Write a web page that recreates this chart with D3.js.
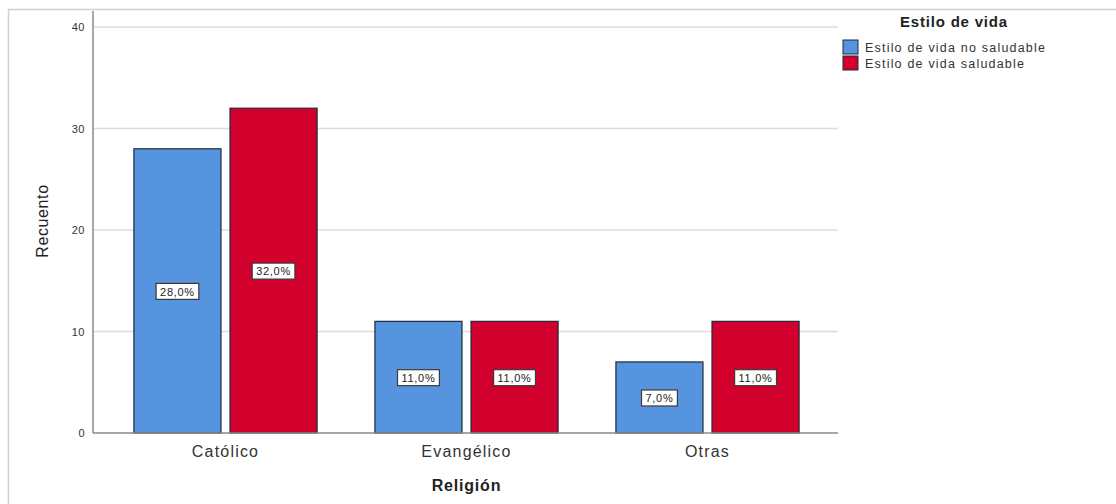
<!DOCTYPE html>
<html><head><meta charset="utf-8">
<script src="https://cdn.jsdelivr.net/npm/d3@7"></script>
<style>body{margin:0;background:#fff;} svg{display:block;font-family:"Liberation Sans",Arial,sans-serif;}</style>
</head><body>
<svg id="c" width="1116" height="504"></svg>
<script>
const categories = ["Católico", "Evangélico", "Otras"];
const seriesNames = ["Estilo de vida no saludable", "Estilo de vida saludable"];
const noSaludable = [28, 11, 7];
const saludable = [32, 11, 11];
const pctLabelsNo = ["28,0%", "11,0%", "7,0%"];
const pctLabelsSi = ["32,0%", "11,0%", "11,0%"];
const yTicks = [0, 10, 20, 30, 40];
const colors = ["#5794e0", "#d2002c"];

const svg = d3.select("#c");
// outer frame
svg.append("line").attr("x1",8).attr("x2",1116).attr("y1",9.5).attr("y2",9.5).attr("stroke","#d0d0d0").attr("stroke-width",1.5);
svg.append("line").attr("x1",8.5).attr("x2",8.5).attr("y1",9).attr("y2",504).attr("stroke","#d0d0d0").attr("stroke-width",1.5);

const plotL = 93, plotR = 838;
const y = d3.scaleLinear().domain([0,40]).range([433,27]);
const x0 = d3.scaleBand().domain(categories).range([105,828]).paddingInner(0.24).paddingOuter(0.12);
const x1 = d3.scaleBand().domain([0,1]).range([0,x0.bandwidth()]).paddingInner(0.094);

// gridlines
svg.append("g").selectAll("line").data(yTicks.filter(d=>d>0)).join("line")
  .attr("x1",plotL).attr("x2",plotR).attr("y1",d=>y(d)).attr("y2",d=>y(d))
  .attr("stroke","#dcdcdc").attr("stroke-width",1.5);

// y axis
const yAxis = svg.append("g").attr("transform",`translate(${plotL},0)`)
  .call(d3.axisLeft(y).tickValues(yTicks).tickSize(0).tickPadding(8));
yAxis.select(".domain").attr("stroke","#8a8a8a").attr("stroke-width",1.5).attr("d",`M0,${y(0)}V11`);
yAxis.selectAll("text").attr("font-size",11).attr("fill","#333").attr("letter-spacing",0.5);

// bars
const data = categories.map((c,i)=>({c, vals:[noSaludable[i], saludable[i]], labs:[pctLabelsNo[i], pctLabelsSi[i]]}));
const g = svg.append("g").selectAll("g").data(data).join("g").attr("transform",d=>`translate(${x0(d.c)},0)`);
g.selectAll("rect").data(d=>d.vals.map((v,k)=>({v,k}))).join("rect")
  .attr("x",d=>x1(d.k)).attr("width",x1.bandwidth())
  .attr("y",d=>y(d.v)).attr("height",d=>y(0)-y(d.v))
  .attr("fill",d=>colors[d.k]).attr("stroke","#1e2a38").attr("stroke-width",1.2);

// x axis line
svg.append("line").attr("x1",plotL).attr("x2",plotR).attr("y1",y(0)).attr("y2",y(0)).attr("stroke","#8a8a8a").attr("stroke-width",1.5);

// value labels
const lg = g.selectAll("g.lab").data(d=>d.vals.map((v,k)=>({v,k,lab:d.labs[k]}))).join("g").attr("class","lab")
  .attr("transform",d=>`translate(${x1(d.k)+x1.bandwidth()/2},${(y(d.v)+y(0))/2+1})`);
const lr = lg.append("rect").attr("y",-8.5).attr("height",16)
  .attr("fill","#fff").attr("stroke","#3a3a3a").attr("stroke-width",1.2);
const lt = lg.append("text").attr("text-anchor","middle").attr("dy","0.35em").attr("font-size",11)
  .attr("letter-spacing",0.7).attr("fill","#222").text(d=>d.lab);
lt.each(function(){
  const w = this.getComputedTextLength();
  d3.select(this.parentNode).select("rect").attr("x",-w/2-4).attr("width",w+8);
});

// category labels
svg.append("g").selectAll("text").data(categories).join("text")
  .attr("x",d=>x0(d)+x0.bandwidth()/2).attr("y",457).attr("text-anchor","middle")
  .attr("font-size",16).attr("letter-spacing",1.2).attr("fill","#333").text(d=>d);

// axis titles
svg.append("text").attr("x",x0("Evangélico")+x0.bandwidth()/2).attr("y",491).attr("text-anchor","middle")
  .attr("font-size",16).attr("font-weight","bold").attr("letter-spacing",0.8).attr("fill","#222").text("Religión");
svg.append("text").attr("transform","translate(48,221) rotate(-90)").attr("text-anchor","middle")
  .attr("font-size",16).attr("letter-spacing",0.6).attr("fill","#222").text("Recuento");

// legend
svg.append("text").attr("x",954).attr("y",27).attr("text-anchor","middle").attr("font-size",15)
  .attr("font-weight","bold").attr("letter-spacing",0.8).attr("fill","#222").text("Estilo de vida");
const leg = svg.append("g").selectAll("g").data(seriesNames).join("g").attr("transform",(d,i)=>`translate(843,${40+i*16})`);
leg.append("rect").attr("width",15).attr("height",14).attr("fill",(d,i)=>colors[i]).attr("stroke","#1e2a38").attr("stroke-width",1);
leg.append("text").attr("x",22).attr("y",11.5).attr("font-size",12.5).attr("letter-spacing",1.2).attr("fill","#333").text(d=>d);
</script>
</body></html>
